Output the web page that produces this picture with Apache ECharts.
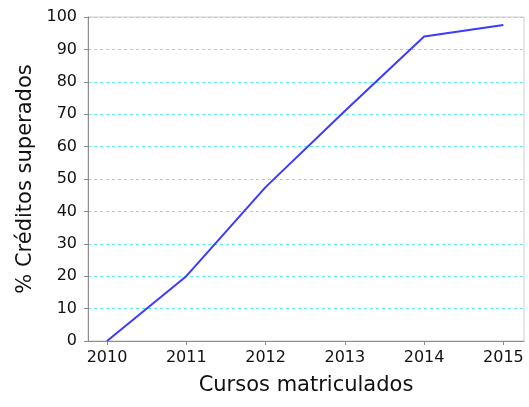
<!DOCTYPE html>
<html>
<head>
<meta charset="utf-8">
<script src="https://cdn.jsdelivr.net/npm/echarts@6/dist/echarts.min.js"></script>
<style>
  html, body { margin: 0; padding: 0; background: #fff; }
  #chart { width: 529px; height: 407px; }
</style>
</head>
<body>
<div id="chart"></div>
<script>
// Academic years and share of credits passed (%)
const years = [2010, 2011, 2012, 2013, 2014, 2015];
const creditsPassed = [0, 20, 47.5, 71, 94, 97.5];
const yTicks = [0, 10, 20, 30, 40, 50, 60, 70, 80, 90, 100];

const xTitle = 'Cursos matriculados';
const yTitle = '% Créditos superados';

const font = 'DejaVu Sans';
const textColor = '#111111';
const axisColor = '#8c8c8c';
const chart = echarts.init(document.getElementById('chart'), null, { renderer: 'canvas' });

chart.setOption({
  animation: false,
  backgroundColor: '#ffffff',
  grid: {
    left: 88, right: 5, top: 17, bottom: 66,
    show: true, borderColor: '#cccccc', borderWidth: 1,
    backgroundColor: 'transparent'
  },
  xAxis: {
    type: 'value',
    min: years[0] - 0.24,
    max: years[years.length - 1] + 0.26,
    name: xTitle,
    nameLocation: 'middle',
    nameGap: 34,
    nameTextStyle: { fontFamily: font, fontSize: 21, color: textColor },
    axisLine: { show: true, onZero: false, lineStyle: { color: axisColor, width: 1 } },
    axisTick: { show: true, length: 4, customValues: years, lineStyle: { color: axisColor } },
    axisLabel: {
      customValues: years, margin: 9,
      fontFamily: font, fontSize: 16, color: textColor,
      formatter: v => String(v)
    },
    splitLine: { show: false }
  },
  yAxis: {
    type: 'value',
    min: yTicks[0],
    max: yTicks[yTicks.length - 1],
    interval: 10,
    name: yTitle,
    nameLocation: 'middle',
    nameGap: 51,
    nameTextStyle: { fontFamily: font, fontSize: 21, color: textColor },
    axisLine: { show: true, lineStyle: { color: axisColor, width: 1 } },
    axisTick: { show: true, length: 4, lineStyle: { color: axisColor } },
    axisLabel: { margin: 11, fontFamily: font, fontSize: 16, color: textColor },
    splitLine: { show: true, lineStyle: { color: '#66eeee', width: 1, type: [3, 3] } }
  },
  series: [{
    type: 'line',
    data: years.map((y, i) => [y, creditsPassed[i]]),
    showSymbol: false,
    symbol: 'none',
    lineStyle: { color: '#3b3bff', width: 2 },
    z: 3
  }]
});
</script>
</body>
</html>
